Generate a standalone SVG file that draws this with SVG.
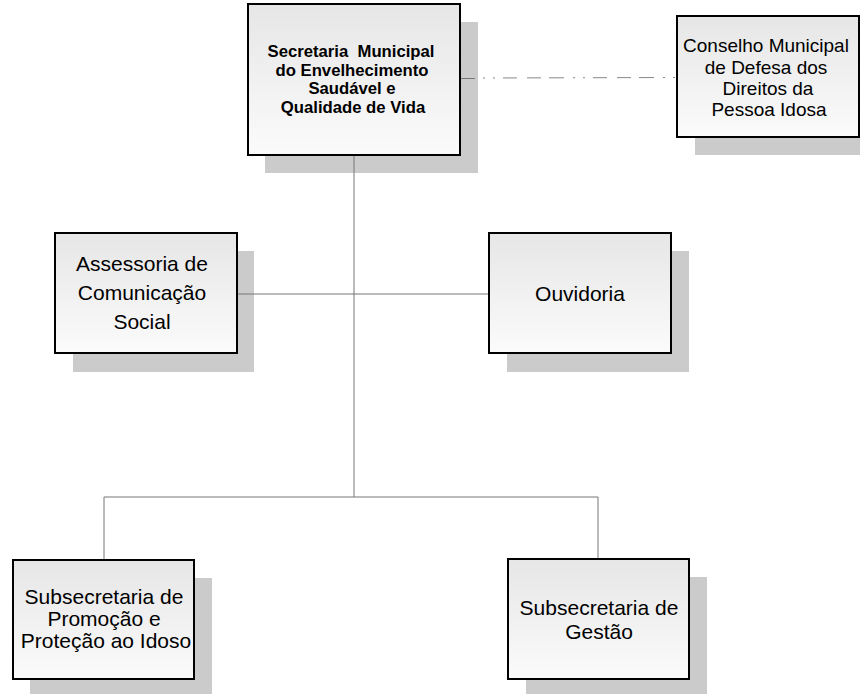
<svg xmlns="http://www.w3.org/2000/svg" width="860" height="694" viewBox="0 0 860 694">
<defs>
<linearGradient id="g" x1="0" y1="0" x2="0" y2="1">
<stop offset="0" stop-color="#e6e6e6"/>
<stop offset="1" stop-color="#fbfbfb"/>
</linearGradient>
</defs>
<style>
.sh{fill:#cbcbcb;}
.bx{fill:url(#g);stroke:#000;stroke-width:2;}
.t{font-family:"Liberation Sans",Arial,sans-serif;font-size:21px;fill:#000;text-anchor:middle;}
.tc{font-family:"Liberation Sans",Arial,sans-serif;font-size:19px;fill:#000;text-anchor:middle;}
.tb{font-family:"Liberation Sans",Arial,sans-serif;font-size:16.7px;font-weight:bold;fill:#000;text-anchor:middle;}
.ln{stroke:#777;stroke-width:1;fill:none;}
.dd{stroke:#888;stroke-width:1;fill:none;stroke-dasharray:2 8 2 8 14 10 14 8 15 9;}
</style>
<rect width="860" height="694" fill="#fff"/>
<g id="secretaria">
<rect class="sh" x="265" y="22" width="213" height="151"/>
<rect class="bx" x="248" y="4" width="212" height="151"/>
<text class="tb" x="351" y="57" xml:space="preserve">Secretaria  Municipal</text>
<text class="tb" x="352" y="76">do Envelhecimento</text>
<text class="tb" x="352" y="94">Saudável e</text>
<text class="tb" x="353" y="113">Qualidade de Vida</text>
</g>
<g id="conselho">
<rect class="sh" x="695" y="34" width="170" height="121"/>
<rect class="bx" x="677" y="16" width="182" height="121"/>
<text class="tc" x="766" y="52">Conselho Municipal</text>
<text class="tc" x="766" y="74">de Defesa dos</text>
<text class="tc" x="768" y="95">Direitos da</text>
<text class="tc" x="769" y="116">Pessoa Idosa</text>
</g>
<g id="assessoria">
<rect class="sh" x="73" y="251" width="181" height="121"/>
<rect class="bx" x="55" y="233" width="182" height="120"/>
<text class="t" x="142" y="271">Assessoria de</text>
<text class="t" x="142" y="300">Comunicação</text>
<text class="t" x="142" y="329">Social</text>
</g>
<g id="ouvidoria">
<rect class="sh" x="507" y="251" width="182" height="121"/>
<rect class="bx" x="489" y="233" width="182" height="120"/>
<text class="t" x="580" y="301">Ouvidoria</text>
</g>
<g id="promocao">
<rect class="sh" x="30" y="578" width="182" height="120"/>
<rect class="bx" x="13" y="560" width="181" height="119"/>
<text class="t" x="104" y="604">Subsecretaria de</text>
<text class="t" x="104" y="626">Promoção e</text>
<text class="t" x="106" y="648">Proteção ao Idoso</text>
</g>
<g id="gestao">
<rect class="sh" x="526" y="577" width="181" height="121"/>
<rect class="bx" x="508" y="559" width="181" height="120"/>
<text class="t" x="599" y="615">Subsecretaria de</text>
<text class="t" x="599" y="639">Gestão</text>
</g>
<g id="connectors">
<line class="ln" x1="354" y1="156" x2="354" y2="497"/>
<line class="ln" x1="238" y1="294" x2="488" y2="294"/>
<line class="ln" x1="104" y1="497" x2="598" y2="497"/>
<line class="ln" x1="104" y1="497" x2="104" y2="559"/>
<line class="ln" x1="598" y1="497" x2="598" y2="558"/>
<line class="ln" x1="461" y1="78.5" x2="475" y2="78.5"/>
<line class="dd" x1="483" y1="78" x2="676" y2="77.5"/>
</g>
</svg>
